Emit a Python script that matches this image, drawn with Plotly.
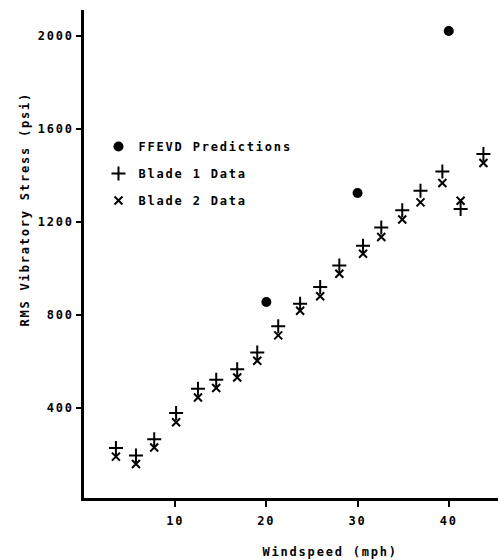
import plotly.graph_objects as go

# ---- data ----
windspeed = [3.5, 5.7, 7.7, 10.1, 12.5, 14.5, 16.8, 19.0, 21.3, 23.7,
             25.9, 28.0, 30.6, 32.6, 34.9, 36.9, 39.3, 41.3, 43.8]
blade1_stress = [227, 195, 265, 377, 482, 520, 566, 638, 750, 847,
                 919, 1012, 1097, 1175, 1249, 1333, 1416, 1255, 1491]
blade2_stress = [190, 158, 229, 338, 444, 485, 530, 602, 711, 817,
                 879, 976, 1062, 1134, 1209, 1283, 1366, 1290, 1452]
ffevd_windspeed = [20, 30, 40]
ffevd_stress = [855, 1323, 2020]

x_ticks = [10, 20, 30, 40]
y_ticks = [400, 800, 1200, 1600, 2000]

FONT = "DejaVu Sans Mono"
FS = 12
W = "bold"

fig = go.Figure()
fig.add_trace(go.Scatter(
    x=ffevd_windspeed, y=ffevd_stress, mode="markers", name="FFEVD Predictions",
    legendgroup="a",
    marker=dict(symbol="circle", size=10, color="black")))
fig.add_trace(go.Scatter(
    x=windspeed, y=blade1_stress, mode="markers", name="Blade 1 Data",
    legendgroup="b",
    marker=dict(symbol="cross-thin", size=10, color="black",
                line=dict(width=2, color="black"))))
fig.add_trace(go.Scatter(
    x=windspeed, y=blade2_stress, mode="markers", name="Blade 2 Data",
    legendgroup="c",
    marker=dict(symbol="x-thin", size=8, color="black",
                line=dict(width=2, color="black"))))

fig.update_layout(
    width=498, height=560,
    margin=dict(l=84, r=0, t=10, b=62),
    plot_bgcolor="white", paper_bgcolor="white",
    font=dict(family=FONT, size=FS, color="black", weight=W),
    showlegend=True,
    legend=dict(x=0.035, y=0.75, xanchor="left", yanchor="top",
                traceorder="grouped", tracegroupgap=8,
                bgcolor="rgba(0,0,0,0)",
                font=dict(family=FONT, size=FS, color="black", weight=W)),
    xaxis=dict(range=[0, 45.4], tickvals=x_ticks, showgrid=False, zeroline=False,
               showline=True, linecolor="black", linewidth=2.5,
               ticks="outside", ticklen=6, tickwidth=2, tickcolor="black",
               ticklabelstandoff=4),
    yaxis=dict(range=[12, 2110], tickvals=y_ticks, showgrid=False, zeroline=False,
               showline=True, linecolor="black", linewidth=2.5,
               ticks="outside", ticklen=5, tickwidth=2, tickcolor="black"),
    annotations=[
        dict(text="Windspeed (mph)", xref="paper", yref="paper", x=0.594, y=-0.11,
             xanchor="center", yanchor="middle", showarrow=False,
             font=dict(family=FONT, size=FS, color="black", weight=W)),
        dict(text="RMS Vibratory Stress (psi)", xref="paper", yref="paper",
             x=-0.1425, y=0.592, textangle=-90,
             xanchor="center", yanchor="middle", showarrow=False,
             font=dict(family=FONT, size=FS, color="black", weight=W)),
    ],
)

post = """
var gd = document.getElementById('{plot_id}');
function ls(){
  gd.querySelectorAll('text').forEach(function(t){ t.style.letterSpacing='1.8px'; });
  gd.querySelectorAll('.legend [clip-path]').forEach(function(e){ e.removeAttribute('clip-path'); });
}
ls();
gd.on('plotly_afterplot', ls);
"""
fig.write_html("out.html", post_script=post)
